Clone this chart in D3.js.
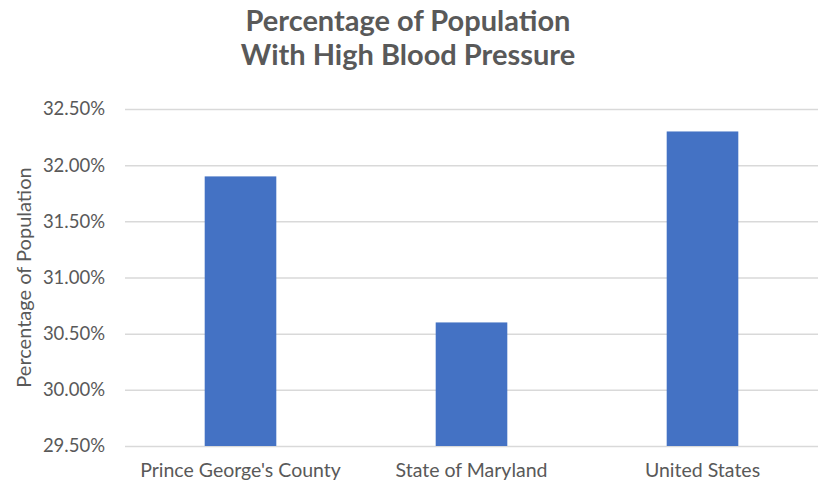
<!DOCTYPE html>
<html>
<head>
<meta charset="utf-8">
<script src="https://cdn.jsdelivr.net/npm/d3@7"></script>
<style>
  html, body { margin: 0; padding: 0; background: #fff; }
  svg { display: block; }
  text { font-family: Lato, "Open Sans", sans-serif; fill: #595959; }
</style>
</head>
<body>
<svg id="chart" width="819" height="487"></svg>
<script>
// Share of population with high blood pressure, by area (percent)
const categories = ["Prince George's County", "State of Maryland", "United States"];
const values = [31.9, 30.6, 32.3];
const yTicks = [29.5, 30.0, 30.5, 31.0, 31.5, 32.0, 32.5];
const titleLines = ["Percentage of Population", "With High Blood Pressure"];
const yAxisTitle = "Percentage of Population";

const svg = d3.select("#chart");
const margin = { left: 125, right: 1, top: 109, bottom: 41 };
const W = 819, H = 487;

const x = d3.scaleBand()
  .domain(categories)
  .range([margin.left, W - margin.right])
  .paddingInner(0.69)
  .paddingOuter(0.345);

const y = d3.scaleLinear()
  .domain([29.5, 32.5])
  .range([H - margin.bottom, margin.top]);

// Horizontal gridlines with percent labels
const yAxis = d3.axisLeft(y)
  .tickValues(yTicks)
  .tickSize(-(W - margin.right - margin.left))
  .tickPadding(20)
  .tickFormat(d => d3.format(".2f")(d) + "%");

const gy = svg.append("g")
  .attr("transform", `translate(${margin.left},0)`)
  .call(yAxis);
gy.select(".domain").remove();
gy.selectAll(".tick line").attr("stroke", "#d9d9d9").attr("stroke-width", 1.5);
gy.selectAll(".tick text")
  .style("font-size", "18.5px")
  .attr("fill", "#595959");

// Bars
svg.append("g")
  .selectAll("rect")
  .data(values)
  .join("rect")
  .attr("x", (d, i) => x(categories[i]))
  .attr("width", x.bandwidth())
  .attr("y", d => y(d))
  .attr("height", d => y(29.5) - y(d))
  .attr("fill", "#4472c4");

// Category axis
const xAxis = d3.axisBottom(x).tickSize(0).tickPadding(17);
const gx = svg.append("g")
  .attr("transform", `translate(0,${y(29.5)})`)
  .call(xAxis);
gx.select(".domain").remove();
gx.selectAll(".tick text")
  .style("font-size", "19.5px")
  .attr("fill", "#595959");

// Title, two lines
svg.append("text")
  .attr("text-anchor", "middle")
  .style("font-size", "29px")
  .style("font-weight", "bold")
  .selectAll("tspan")
  .data(titleLines)
  .join("tspan")
  .attr("x", 408)
  .attr("y", (d, i) => 31 + i * 34)
  .text(d => d);

// Y-axis title
svg.append("text")
  .attr("transform", `translate(31,${(y(29.5) + y(32.5)) / 2}) rotate(-90)`)
  .attr("text-anchor", "middle")
  .style("font-size", "20px")
  .text(yAxisTitle);
</script>
</body>
</html>
